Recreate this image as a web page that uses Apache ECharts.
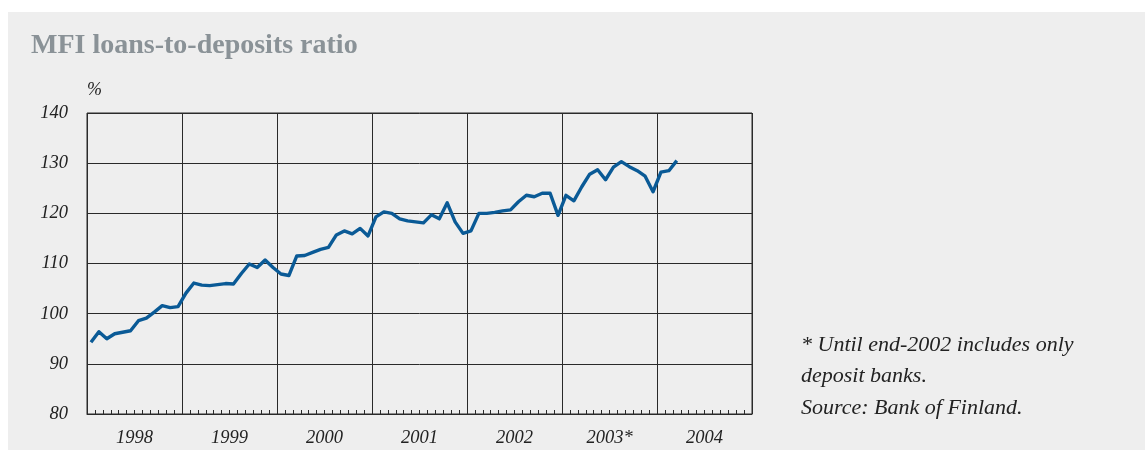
<!DOCTYPE html>
<html>
<head>
<meta charset="utf-8">
<script src="https://cdn.jsdelivr.net/npm/echarts@6/dist/echarts.min.js"></script>
<style>
  html, body { margin: 0; padding: 0; background: #ffffff; }
  #chart { width: 1145px; height: 450px; }
</style>
</head>
<body>
<div id="chart"></div>
<script>
// Monthly MFI loans-to-deposits ratio, %, Jan 1998 – Mar 2004
const startYear = 1998;
const ratioValues = [
  94.3, 96.4, 95.0, 96.0, 96.3, 96.6, 98.6, 99.1, 100.3, 101.6, 101.2, 101.4,
  104.1, 106.1, 105.7, 105.6, 105.8, 106.0, 105.9, 108.0, 109.9, 109.2, 110.7, 109.2,
  107.9, 107.6, 111.5, 111.6, 112.2, 112.8, 113.2, 115.7, 116.5, 115.9, 117.0, 115.5,
  119.3, 120.3, 120.0, 118.9, 118.5, 118.3, 118.1, 119.7, 118.9, 122.1, 118.3, 116.0,
  116.5, 120.0, 120.0, 120.2, 120.5, 120.7, 122.3, 123.6, 123.3, 124.0, 124.0, 119.6,
  123.6, 122.5, 125.3, 127.8, 128.7, 126.7, 129.2, 130.3, 129.3, 128.5, 127.4, 124.3,
  128.2, 128.5, 130.5
];
const yearLabels = ['1998', '1999', '2000', '2001', '2002', '2003*', '2004'];
const yTicks = { min: 80, max: 140, step: 10 };
const titleText = 'MFI loans-to-deposits ratio';
const unitText = '%';
const noteLines = ['* Until end-2002 includes only', 'deposit banks.', 'Source: Bank of Finland.'];

const serif = '"Liberation Serif", "DejaVu Serif", serif';
const lineColor = '#2a2a2a';
const monthsTotal = yearLabels.length * 12;
const seriesData = ratioValues.map((v, i) => [i + 0.5, v]);

const chart = echarts.init(document.getElementById('chart'), null, { renderer: 'canvas' });

const noteGraphics = noteLines.map((t, i) => ({
  type: 'text',
  left: 801,
  top: 334 + i * 31.7,
  style: { text: t, font: 'italic 22px ' + serif, fill: '#222222' },
  z: 10
}));

chart.setOption({
  animation: false,
  backgroundColor: 'transparent',
  title: {
    text: titleText,
    left: 31,
    top: 32,
    padding: 0,
    textStyle: { fontFamily: serif, fontSize: 28, fontWeight: 'bold', color: '#8a9297' }
  },
  graphic: [
    { type: 'rect', left: 8, top: 12, shape: { width: 1137, height: 438 }, style: { fill: '#eeeeee' }, z: -10 }
  ].concat(noteGraphics),
  grid: {
    left: 87, top: 113, width: 665, height: 301,
    show: true, borderColor: lineColor, borderWidth: 1, backgroundColor: 'transparent'
  },
  xAxis: [
    {
      type: 'value',
      min: 0, max: monthsTotal, interval: 12,
      position: 'bottom',
      axisLine: { show: true, lineStyle: { color: lineColor, width: 1 } },
      axisTick: { show: true, inside: true, length: 4, lineStyle: { color: lineColor } },
      minorTick: { show: true, splitNumber: 12, length: 4, lineStyle: { color: lineColor } },
      splitLine: { show: true, lineStyle: { color: lineColor, width: 1 } },
      axisLabel: { show: false }
    },
    {
      type: 'category',
      data: yearLabels,
      boundaryGap: true,
      position: 'bottom',
      axisLine: { show: false },
      axisTick: { show: false },
      splitLine: { show: false },
      axisLabel: {
        show: true, margin: 15,
        fontFamily: serif, fontStyle: 'italic', fontSize: 18.5, color: '#222222'
      }
    }
  ],
  yAxis: {
    type: 'value',
    min: yTicks.min, max: yTicks.max, interval: yTicks.step,
    name: unitText,
    nameLocation: 'end',
    nameGap: 14,
    nameTextStyle: { fontFamily: serif, fontStyle: 'italic', fontSize: 18, color: '#222222', align: 'left', padding: [0, 0, 0, 0] },
    axisLine: { show: false },
    axisTick: { show: false },
    splitLine: { show: true, lineStyle: { color: lineColor, width: 1 } },
    axisLabel: { margin: 19, fontFamily: serif, fontStyle: 'italic', fontSize: 18.5, color: '#222222' }
  },
  series: [{
    type: 'line',
    xAxisIndex: 0,
    data: seriesData,
    showSymbol: false,
    symbol: 'none',
    lineStyle: { color: '#0a5a96', width: 3.4, join: 'round' },
    z: 5
  }]
});
</script>
</body>
</html>
